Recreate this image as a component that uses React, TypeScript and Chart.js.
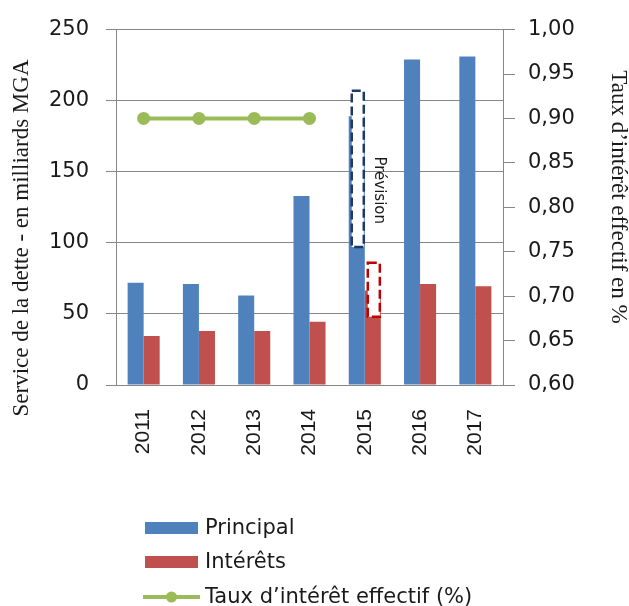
import React, { useEffect, useRef } from "react";
import { Chart, registerables } from "chart.js";

Chart.register(...registerables);

// ---- Data ----
const years = ["2011", "2012", "2013", "2014", "2015", "2016", "2017"];
const principal = [72, 71, 63, 133, 189, 229, 231];
const interets = [34.5, 38, 38, 44.5, 66.5, 71, 69.5];
const tauxEffectif: (number | null)[] = [0.9, 0.9, 0.9, 0.9, null, null, null];

// Forecast ("Prévision") boxes for 2015, value ranges on the left axis
const previsionYear = "2015";
const previsionPrincipal = [97, 207];
const previsionInterets = [48, 86];

const leftTitle = "Service de la dette - en milliards MGA";
const rightTitle = "Taux d\u2019intérêt effectif en %";
const legendLabels = ["Principal", "Intérêts", "Taux d\u2019intérêt effectif (%)"];

// ---- Styles ----
const BLUE = "#4F81BD";
const RED = "#C0504D";
const GREEN = "#9BBB59";
const GRID = "#878787";
const TEXT = "#1a1a1a";
const SANS = "'DejaVu Sans', sans-serif";
const SERIF = "'Liberation Serif', 'DejaVu Serif', serif";
const XFONT = "'Liberation Sans', Arial, sans-serif";

const overlayPlugin = {
  id: "overlay",
  afterDatasetsDraw(chart: any) {
    const ctx = chart.ctx;
    const y = chart.scales.y;
    const idx = years.indexOf(previsionYear);
    const bp: any = chart.getDatasetMeta(0).data[idx];
    const bi: any = chart.getDatasetMeta(1).data[idx];
    const box = (bar: any, range: number[], color: string) => {
      const x0 = bar.x - bar.width / 2 + 3;
      const x1 = bar.x + bar.width / 2 - 1;
      const yTop = y.getPixelForValue(range[1]);
      const yBot = y.getPixelForValue(range[0]);
      ctx.save();
      ctx.fillStyle = "#ffffff";
      ctx.fillRect(x0, yTop, x1 - x0, yBot - yTop);
      ctx.strokeStyle = color;
      ctx.lineWidth = 2.5;
      ctx.setLineDash([9, 4]);
      ctx.strokeRect(x0, yTop, x1 - x0, yBot - yTop);
      ctx.restore();
    };
    box(bp, previsionPrincipal, "#1F3864");
    box(bi, previsionInterets, "#C00000");

    ctx.save();
    ctx.translate(bi.x + 6.5, y.getPixelForValue(137));
    ctx.rotate(Math.PI / 2);
    ctx.font = `15px ${SANS}`;
    ctx.fillStyle = TEXT;
    ctx.textAlign = "center";
    ctx.textBaseline = "middle";
    ctx.fillText("Prévision", 0, 0);
    ctx.restore();
  },
  afterDraw(chart: any) {
    const ctx = chart.ctx;
    const area = chart.chartArea;
    // Axis titles
    ctx.save();
    ctx.font = `23px ${SERIF}`;
    ctx.fillStyle = TEXT;
    ctx.textAlign = "center";
    ctx.textBaseline = "middle";
    ctx.translate(area.left - 94, 238);
    ctx.rotate(-Math.PI / 2);
    ctx.fillText(leftTitle, 0, 0);
    ctx.restore();

    ctx.save();
    ctx.font = `23px ${SERIF}`;
    ctx.fillStyle = TEXT;
    ctx.textAlign = "center";
    ctx.textBaseline = "middle";
    ctx.translate(area.right + 115, 197);
    ctx.rotate(Math.PI / 2);
    ctx.fillText(rightTitle, 0, 0);
    ctx.restore();

    // Legend
    const lx = area.left + 29;
    const tx = area.left + 89;
    const rows = [528, 562, 597];
    ctx.save();
    ctx.font = `21px ${SANS}`;
    ctx.textAlign = "left";
    ctx.textBaseline = "middle";
    ctx.fillStyle = BLUE;
    ctx.fillRect(lx, rows[0] - 6, 53, 12);
    ctx.fillStyle = RED;
    ctx.fillRect(lx, rows[1] - 6, 53, 12);
    ctx.strokeStyle = GREEN;
    ctx.lineWidth = 4;
    ctx.beginPath();
    ctx.moveTo(lx - 2, rows[2]);
    ctx.lineTo(lx + 55, rows[2]);
    ctx.stroke();
    ctx.fillStyle = GREEN;
    ctx.beginPath();
    ctx.arc(lx + 26.5, rows[2], 5.5, 0, Math.PI * 2);
    ctx.fill();
    ctx.fillStyle = TEXT;
    legendLabels.forEach((t, i) => ctx.fillText(t, tx, rows[i] + 1));
    ctx.restore();
  },
};

export default function App() {
  const ref = useRef<HTMLCanvasElement>(null);
  useEffect(() => {
    if (!ref.current) return;
    const chart = new Chart(ref.current, {
      type: "bar",
      data: {
        labels: years,
        datasets: [
          {
            type: "bar",
            label: legendLabels[0],
            data: principal,
            backgroundColor: BLUE,
            yAxisID: "y",
            categoryPercentage: 0.58,
            barPercentage: 1,
            order: 2,
          },
          {
            type: "bar",
            label: legendLabels[1],
            data: interets,
            backgroundColor: RED,
            yAxisID: "y",
            categoryPercentage: 0.58,
            barPercentage: 1,
            order: 2,
          },
          {
            type: "line",
            label: legendLabels[2],
            data: tauxEffectif as any,
            borderColor: GREEN,
            backgroundColor: GREEN,
            borderWidth: 4,
            pointRadius: 6.5,
            pointBackgroundColor: GREEN,
            pointBorderWidth: 0,
            yAxisID: "y1",
            order: 1,
          } as any,
        ],
      },
      options: {
        animation: false,
        responsive: true,
        maintainAspectRatio: false,
        layout: { padding: { top: 28, left: 0, right: 0, bottom: 0 } },
        plugins: {
          legend: { display: false },
          tooltip: { enabled: false },
          title: { display: false },
        },
        scales: {
          x: {
            grid: { display: false },
            border: { display: true, color: GRID, width: 1 },
            ticks: {
              minRotation: 90,
              maxRotation: 90,
              padding: 16,
              color: TEXT,
              font: { family: XFONT, size: 21 },
            },
            afterFit(scale: any) {
              scale.height = 221;
            },
          },
          y: {
            position: "left",
            min: 0,
            max: 250,
            ticks: {
              stepSize: 50,
              padding: 17,
              color: TEXT,
              font: { family: SANS, size: 21 },
            },
            grid: { color: GRID, lineWidth: 1, tickLength: 10, drawTicks: true },
            border: { display: true, color: GRID, width: 1 },
            afterFit(scale: any) {
              scale.width = 116;
            },
          },
          y1: {
            position: "right",
            min: 0.6,
            max: 1.0,
            ticks: {
              stepSize: 0.05,
              padding: 13,
              color: TEXT,
              font: { family: SANS, size: 21 },
              callback: (v: any) => Number(v).toFixed(2).replace(".", ","),
            },
            grid: { drawOnChartArea: false, color: GRID, tickLength: 12, drawTicks: true },
            border: { display: true, color: GRID, width: 1 },
            afterFit(scale: any) {
              scale.width = 126;
            },
          },
        },
      },
      plugins: [overlayPlugin],
    });
    return () => chart.destroy();
  }, []);

  return (
    <div style={{ position: "fixed", left: 0, top: 0, width: 629, height: 606, background: "#fff" }}>
      <canvas ref={ref} />
    </div>
  );
}
